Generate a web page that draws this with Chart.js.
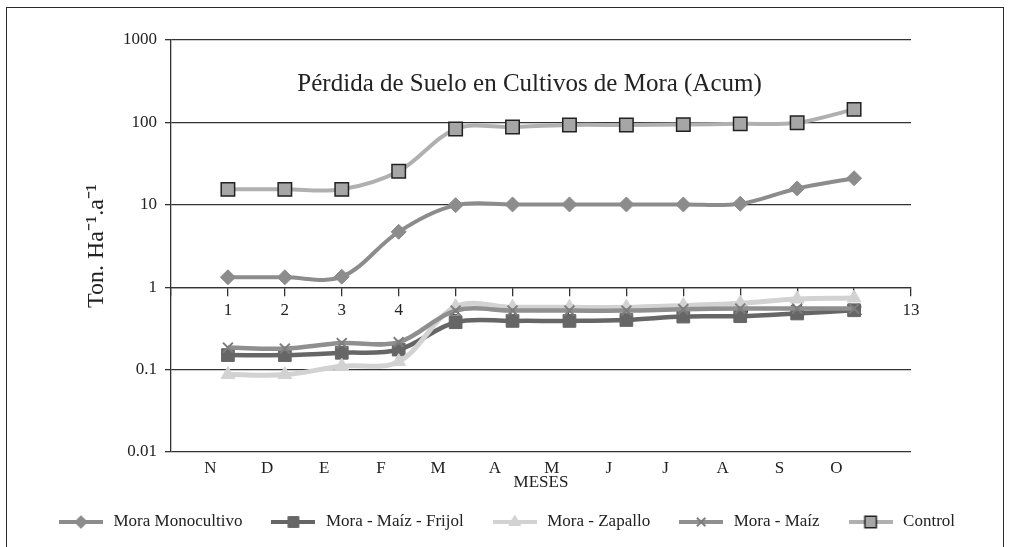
<!DOCTYPE html>
<html>
<head>
<meta charset="utf-8">
<script src="https://cdn.jsdelivr.net/npm/chart.js@4.4.0/dist/chart.umd.min.js"></script>
<style>
  html, body { margin: 0; padding: 0; background: #fff; }
  #wrap { position: relative; width: 1012px; height: 547px; overflow: hidden; }
  #marco { position: absolute; left: 6px; top: 7px; width: 996px; height: 600px; border: 1.5px solid #2a2a2a; }
  canvas { position: absolute; left: 0; top: 0; }
</style>
</head>
<body>
<div id="wrap">
  <div id="marco"></div>
  <canvas id="perdidaChart" width="1012" height="547"></canvas>
</div>
<script>
// datos (escala logaritmica)
const meses = ['N', 'D', 'E', 'F', 'M', 'A', 'M', 'J', 'J', 'A', 'S', 'O'];
const puntos = [1, 2, 3, 4, 5, 6, 7, 8, 9, 10, 11, 12];
const moraMonocultivo = [1.32, 1.32, 1.34, 4.7, 9.9, 10.1, 10.1, 10.1, 10.1, 10.3, 15.8, 21];
const moraMaizFrijol = [0.15, 0.15, 0.16, 0.175, 0.376, 0.39, 0.39, 0.40, 0.44, 0.445, 0.48, 0.525];
const moraZapallo = [0.087, 0.087, 0.11, 0.125, 0.58, 0.57, 0.57, 0.57, 0.60, 0.64, 0.72, 0.74];
const moraMaiz = [0.185, 0.18, 0.21, 0.215, 0.52, 0.52, 0.52, 0.52, 0.54, 0.55, 0.55, 0.55];
const control = [15.4, 15.4, 15.4, 25.5, 83, 88, 93, 93, 94, 96, 99, 144];
const yTicks = [0.01, 0.1, 1, 10, 100, 1000];

const titulo = 'Pérdida de Suelo en Cultivos de Mora (Acum)';
const fuente = '"Liberation Serif", "Times New Roman", serif';
const desfaseMes = 0.69; // las letras de los meses van corridas respecto a los puntos

function serie(vals) {
  return vals.map((v, i) => ({x: puntos[i], y: v}));
}

// imagen de leyenda: linea + marcador
function imgLeyenda(linea, ancho, estilo, radio, relleno, borde, grosorBorde) {
  let c = document.createElement('canvas');
  c.width = 44; c.height = 20;
  let ctx = c.getContext('2d');
  ctx.strokeStyle = linea;
  ctx.lineWidth = ancho;
  ctx.beginPath(); ctx.moveTo(0, 10); ctx.lineTo(44, 10); ctx.stroke();
  ctx.fillStyle = relleno;
  ctx.strokeStyle = borde;
  ctx.lineWidth = grosorBorde;
  Chart.helpers.drawPoint(ctx, {pointStyle: estilo, radius: radio, borderWidth: grosorBorde, rotation: 0}, 22, 10);
  return c;
}

// orden inverso: la primera serie queda dibujada encima (como en Excel la ultima)
let datasets = [
  {label: 'Control', data: serie(control), borderColor: '#b0b0b0', borderWidth: 4,
   pointStyle: 'rect', pointRadius: 9.5, pointBackgroundColor: '#a6a6a6', pointBorderColor: '#222', pointBorderWidth: 1.5},
  {label: 'Mora - Maíz', data: serie(moraMaiz), borderColor: '#8f8f8f', borderWidth: 4.5,
   pointStyle: 'crossRot', pointRadius: 7, pointBackgroundColor: '#7d7d7d', pointBorderColor: '#7d7d7d', pointBorderWidth: 2},
  {label: 'Mora - Zapallo', data: serie(moraZapallo), borderColor: '#d2d2d2', borderWidth: 5,
   pointStyle: 'triangle', pointRadius: 8, pointBackgroundColor: '#d2d2d2', pointBorderColor: '#d2d2d2', pointBorderWidth: 1},
  {label: 'Mora - Maíz - Frijol', data: serie(moraMaizFrijol), borderColor: '#666666', borderWidth: 4.5,
   pointStyle: 'rect', pointRadius: 9, pointBackgroundColor: '#666666', pointBorderColor: '#666666', pointBorderWidth: 1},
  {label: 'Mora Monocultivo', data: serie(moraMonocultivo), borderColor: '#8c8c8c', borderWidth: 4,
   pointStyle: 'rectRot', pointRadius: 7.5, pointBackgroundColor: '#8c8c8c', pointBorderColor: '#8c8c8c', pointBorderWidth: 1}
];

let imagenes = datasets.map(d => imgLeyenda(d.borderColor, 4, d.pointStyle, d.pointRadius * 0.85,
  d.pointBackgroundColor, d.pointBorderColor, d.pointBorderWidth));

const tituloPlugin = {
  id: 'tituloInterno',
  afterDraw(chart) {
    let ctx = chart.ctx;
    ctx.save();
    ctx.font = '25px ' + fuente;
    ctx.fillStyle = '#222';
    ctx.textAlign = 'center';
    ctx.textBaseline = 'middle';
    ctx.fillText(titulo, chart.scales.x.getPixelForValue(6.3), chart.scales.y.getPixelForValue(290));
    ctx.restore();
  }
};

let perdidaChart = new Chart(document.getElementById('perdidaChart').getContext('2d'), {
  type: 'line',
  data: {datasets: datasets},
  options: {
    responsive: false,
    animation: false,
    layout: {padding: {left: 0, top: 40, right: 0, bottom: 6.5}},
    elements: {line: {tension: 0.35}},
    scales: {
      x: {
        type: 'linear', min: 0, max: 13, position: {y: 1},
        afterFit: s => { s.height = 0; },
        grid: {drawOnChartArea: false, drawTicks: true, tickLength: 8, color: '#333', lineWidth: 1.3},
        border: {display: true, color: '#333', width: 1.3},
        ticks: {stepSize: 1, padding: 5, color: '#222', font: {family: fuente, size: 17},
                callback: v => v === 0 ? '' : v}
      },
      xb: {
        type: 'linear', min: 0, max: 13, position: 'bottom',
        afterFit: s => { s.height = 34.5; },
        afterBuildTicks: s => { s.ticks = meses.map((m, i) => ({value: i + desfaseMes})); },
        grid: {display: false, drawTicks: false},
        border: {display: false},
        ticks: {autoSkip: false, maxRotation: 0, padding: 6, color: '#222', font: {family: fuente, size: 17},
                callback: (v, i) => meses[i]},
        title: {display: true, text: 'MESES', color: '#222', font: {family: fuente, size: 17}, padding: {top: 0, bottom: -6.5}}
      },
      y: {
        type: 'logarithmic', min: 0.01, max: 1000, position: 'left',
        afterFit: s => { s.width = 171; },
        afterBuildTicks: s => { s.ticks = yTicks.map(v => ({value: v})); },
        grid: {color: '#333', lineWidth: 1.3, tickLength: 6},
        border: {color: '#333', width: 1.3},
        ticks: {padding: 8, autoSkip: false, color: '#222', font: {family: fuente, size: 17}, callback: v => String(v)},
        title: {display: true, text: 'Ton. Ha⁻¹.a⁻¹', color: '#222', font: {family: fuente, size: 24}, padding: {top: 82, bottom: 0}}
      },
      margen: {
        // eje vacio a la derecha solo para dejar el hueco del original
        type: 'linear', position: 'right', min: 0, max: 1,
        afterFit: s => { s.width = 101; },
        grid: {display: false}, border: {display: false}, ticks: {display: false}
      }
    },
    plugins: {
      tooltip: {enabled: false},
      legend: {
        position: 'bottom', reverse: true,
        labels: {
          usePointStyle: true, pointStyleWidth: 48, padding: 27, color: '#222',
          font: {family: fuente, size: 17},
          generateLabels: chart => Chart.defaults.plugins.legend.labels.generateLabels(chart)
            .map(it => Object.assign(it, {pointStyle: imagenes[it.datasetIndex]}))
        }
      }
    }
  },
  plugins: [tituloPlugin]
});
</script>
</body>
</html>
